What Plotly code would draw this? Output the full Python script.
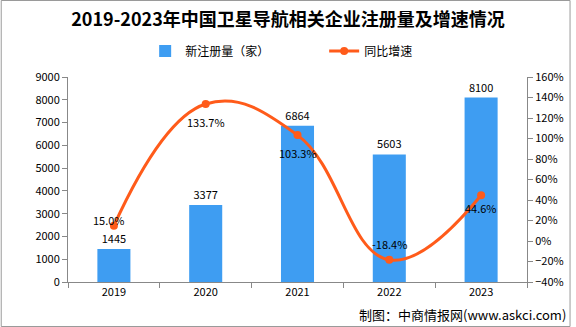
import plotly.graph_objects as go

years = ["2019", "2020", "2021", "2022", "2023"]
registrations = [1445, 3377, 6864, 5603, 8100]
growth = [15.0, 133.7, 103.3, -18.4, 44.6]

bar_color = "#3E9DF2"
line_color = "#FF5B1A"
axis_color = "#888888"
font_main = "Noto Sans CJK SC"

W, H = 576, 327
ML, MR, MT, MB = 68, 44, 77, 45
PW, PH = W - ML - MR, H - MT - MB

fig = go.Figure()

fig.add_trace(go.Bar(
    x=years, y=registrations, name="新注册量（家）",
    marker=dict(color=bar_color, line=dict(width=0)),
    text=[str(v) for v in registrations], textposition="outside",
    textfont=dict(size=11, color="#000000", family=font_main),
    cliponaxis=False,
))

fig.add_trace(go.Scatter(
    x=years, y=growth, name="同比增速", yaxis="y2", mode="lines+markers",
    line=dict(color=line_color, width=3, shape="spline", smoothing=1.2),
    marker=dict(color=line_color, size=8),
    cliponaxis=False,
))

# percentage labels placed beside each point (x given as category index)
offsets = [(-5, 6), (0, -18), (0, -18), (0, 16), (0, -13)]
for i, (g, (dx, dy)) in enumerate(zip(growth, offsets)):
    fig.add_annotation(
        x=i, y=g, yref="y2", text=f"{g:.1f}%", showarrow=False,
        xshift=dx, yshift=dy,
        font=dict(size=11, color="#000000", family=font_main),
    )

fig.update_layout(
    width=W, height=H,
    margin=dict(l=ML, r=MR, t=MT, b=MB),
    paper_bgcolor="white", plot_bgcolor="white",
    bargap=0.64,
    font=dict(family=font_main, size=11, color="#000000"),
    title=dict(text="<b>2019-2023年中国卫星导航相关企业注册量及增速情况</b>",
               x=0.5, xanchor="center", y=(H - 20) / H, yanchor="middle",
               font=dict(size=18, color="#000000", family=font_main)),
    legend=dict(orientation="h", x=(146 - ML) / PW, xanchor="left",
                y=(MT - 51) / PH + 1, yanchor="middle",
                font=dict(size=12, family=font_main), itemwidth=30,
                entrywidth=134, bgcolor="rgba(0,0,0,0)"),
    showlegend=True,
    xaxis=dict(
        type="category", range=[-0.5, 4.5], showline=True, linecolor=axis_color,
        linewidth=1, ticks="outside", tickcolor=axis_color, ticklen=5,
        tickson="boundaries", showgrid=False,
        tickfont=dict(size=11, family=font_main),
    ),
    yaxis=dict(
        range=[0, 9000], dtick=1000, showline=True, linecolor=axis_color,
        ticks="outside", tickcolor=axis_color, ticklen=5, showgrid=False,
        zeroline=False, tickfont=dict(size=11, family=font_main),
    ),
    yaxis2=dict(
        overlaying="y", side="right", range=[-40, 160], dtick=20,
        ticksuffix="%", showline=True, linecolor=axis_color,
        ticks="outside", tickcolor=axis_color, ticklen=5, showgrid=False,
        zeroline=False, tickfont=dict(size=11, family=font_main),
    ),
)

# outer frame
fig.add_shape(type="rect", xref="paper", yref="paper",
              x0=(-ML + 0.5) / PW, x1=(PW + MR - 0.5) / PW,
              y0=(-MB + 0.5) / PH, y1=(PH + MT - 0.5) / PH,
              line=dict(color="#9A9A9A", width=1), layer="below")

fig.add_annotation(
    xref="paper", yref="paper", x=(PW + MR - 3) / PW, y=(-MB + 13) / PH,
    xanchor="right", yanchor="middle", showarrow=False,
    text="制图：中商情报网(www.askci.com)",
    font=dict(size=13, color="#000000", family=font_main),
)

fig.write_html("out.html")
